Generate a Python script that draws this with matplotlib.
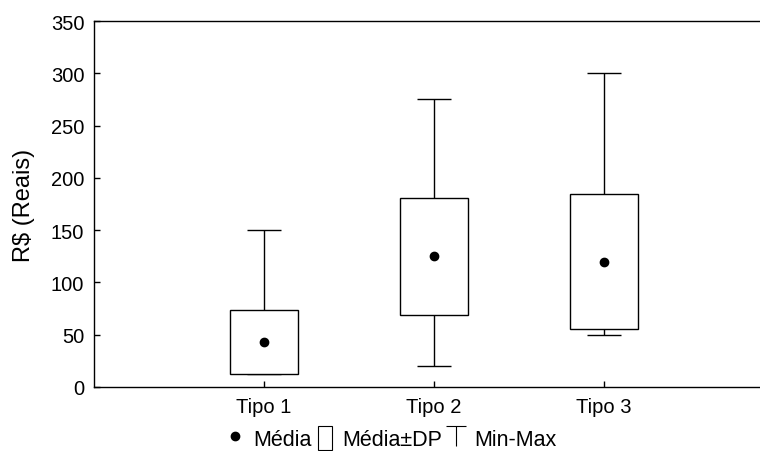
import matplotlib
matplotlib.use('Agg')
import matplotlib.pyplot as plt
import numpy as np
from matplotlib.lines import Line2D
from matplotlib.patches import Rectangle
from matplotlib.path import Path

plt.rcParams['font.family'] = ['Liberation Sans', 'DejaVu Sans']

tipos = ['Tipo 1', 'Tipo 2', 'Tipo 3']
media = [43, 125, 120]
dp = [31, 56, 65]
minimo = [12, 20, 50]
maximo = [150, 275, 300]

x = np.arange(1, len(tipos) + 1)
media = np.array(media)
dp = np.array(dp)

fig = plt.figure(figsize=(7.6, 4.52), dpi=100)
ax = fig.add_axes([0.1237, 0.1416, 0.8763, 0.8097])

# min-max whiskers with caps
ax.vlines(x, minimo, maximo, color='black', lw=1, zorder=1)
ax.hlines(minimo, x - 0.1, x + 0.1, color='black', lw=1, zorder=1)
ax.hlines(maximo, x - 0.1, x + 0.1, color='black', lw=1, zorder=1)

# media +- DP boxes
ax.bar(x, 2 * dp, bottom=media - dp, width=0.4, facecolor='white',
       edgecolor='black', lw=1, zorder=2)

# media
ax.plot(x, media, 'o', color='black', ms=6, zorder=3)

ax.set_xlim(0, 3.92)
ax.set_ylim(0, 350)
ax.set_yticks(np.arange(0, 351, 50))
ax.set_xticks(x)
ax.set_xticklabels(tipos)
ax.tick_params(direction='in', length=4, labelsize=14.5, width=1)
ax.tick_params(axis='x', pad=7)
ax.tick_params(axis='y', pad=7)
ax.spines['right'].set_visible(False)
for s in ['left', 'bottom', 'top']:
    ax.spines[s].set_linewidth(1)
ax.set_ylabel('R$ (Reais)', fontsize=17)
ax.yaxis.set_label_coords(-0.088, 0.5)

# thin "T" symbol for the min-max legend entry
t_marker = Path([(-1, 1), (1, 1), (0, 1), (0, -1)],
                [Path.MOVETO, Path.LINETO, Path.MOVETO, Path.LINETO])

handles = [
    Line2D([], [], marker='o', ls='', color='black', ms=6),
    Rectangle((0, 0), 1, 1, facecolor='white', edgecolor='black', lw=0.8),
    Line2D([], [], marker=t_marker, ls='', color='black', ms=14,
           markeredgewidth=0.8, fillstyle='none'),
]
fig.legend(handles, ['Média', 'Média±DP', 'Min-Max'], loc='center',
           bbox_to_anchor=(0.516, 0.028), ncol=3, frameon=False, fontsize=15.5,
           handlelength=0.65, handletextpad=0.5, columnspacing=0.3,
           handleheight=1.3, borderpad=0)

fig.savefig('out.png', dpi=100)
